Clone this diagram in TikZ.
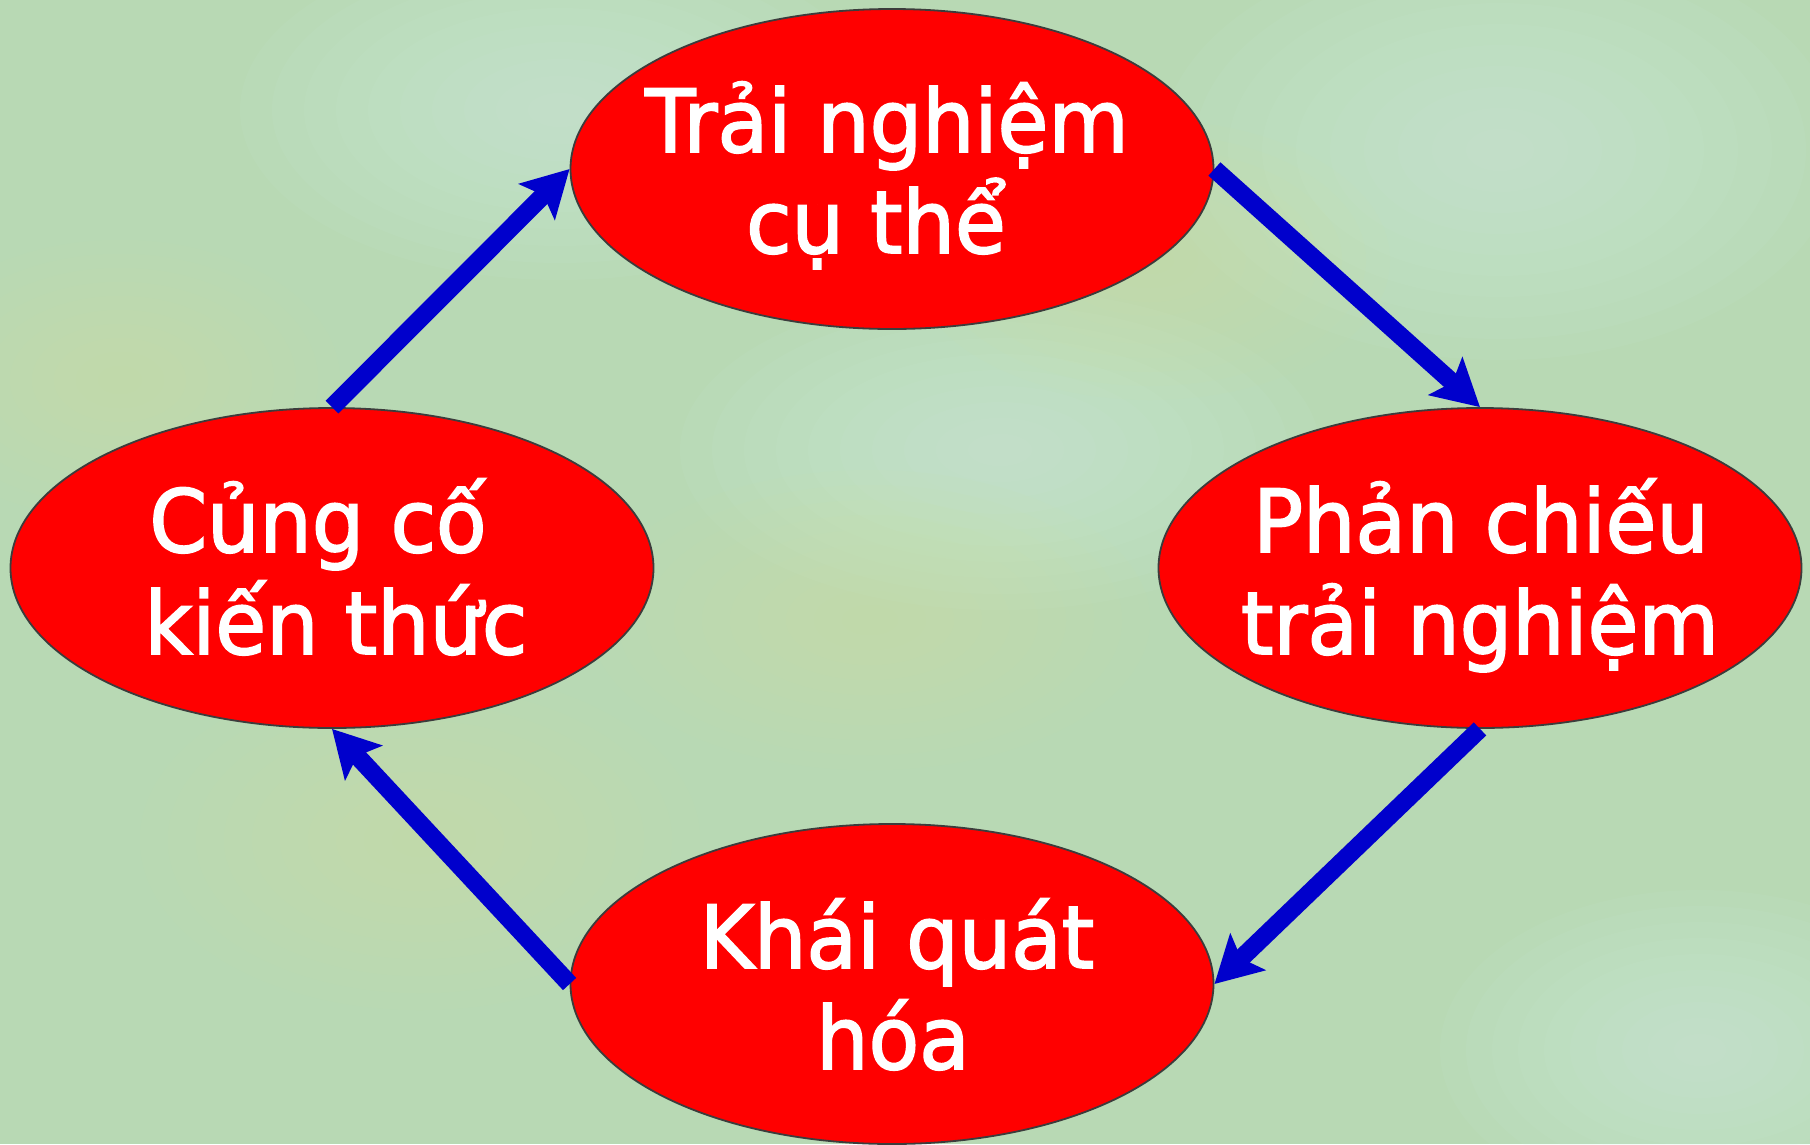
\documentclass[tikz,border=0pt]{standalone}
\usepackage{fontspec}
\setmainfont[FakeStretch=0.95,FakeBold=2]{DejaVu Sans}
\usetikzlibrary{shapes.geometric,arrows.meta}
\definecolor{bgbase}{RGB}{184,217,180}
\definecolor{bglight}{RGB}{212,236,226}
\definecolor{bgyellow}{RGB}{206,222,168}
\definecolor{stagered}{RGB}{255,0,0}
\definecolor{edgegray}{RGB}{60,60,60}
\definecolor{flowblue}{RGB}{0,0,204}
\begin{document}
\begin{tikzpicture}[x=1pt,y=-1pt,
  stage/.style={ellipse, draw=edgegray, line width=1.8pt, fill=stagered,
    minimum width=643pt, minimum height=320pt, inner sep=0pt},
  txt/.style={text=white, font=\fontsize{87}{100}\selectfont, anchor=base, inner sep=0pt},
  flow/.style={draw=flowblue, line width=18pt,
    -{Stealth[length=46pt,width=50pt,inset=9pt]}}]
% background
\fill[bgbase] (0,0) rectangle (1810,1144);
\useasboundingbox (0,0) rectangle (1810,1144);
\foreach \cx/\cy/\rx/\ry/\col in {
    560/110/320/170/bglight, 1500/150/340/210/bglight,
    1000/450/320/160/bglight, 1700/1050/260/160/bglight,
    1150/260/240/140/bgyellow, 420/840/280/170/bgyellow,
    120/380/220/140/bgyellow, 870/620/280/150/bgyellow}{
  \foreach \k in {1,...,10}{
    \fill[\col, opacity=0.07] (\cx,\cy) ellipse [x radius={\rx*\k/10}, y radius={\ry*\k/10}];
  }
}
% stages
\node[stage] (top) at (892,169) {};
\node[stage] (right) at (1480,568) {};
\node[stage] (bottom) at (892,984) {};
\node[stage] (left) at (332,568) {};
% texts
\node[txt] (top1) at (887,152) {Trải nghiệm};
\node[txt] (top2) at (876,253) {cụ thể};
\node[txt] (right1) at (1481,552) {Phản chiếu};
\node[txt] (right2) at (1480,654) {trải nghiệm};
\node[txt] (left1) at (318,552) {Củng cố};
\node[txt] (left2) at (336,654) {kiến thức};
\node[txt] (bottom1) at (897,968) {Khái quát};
\node[txt] (bottom2) at (893,1069) {hóa};
% connectors
\draw[flow] (top.east) -- (right.north);
\draw[flow] (right.south) -- (bottom.east);
\draw[flow] (bottom.west) -- (left.south);
\draw[flow] (left.north) -- (top.west);
\end{tikzpicture}
\end{document}
